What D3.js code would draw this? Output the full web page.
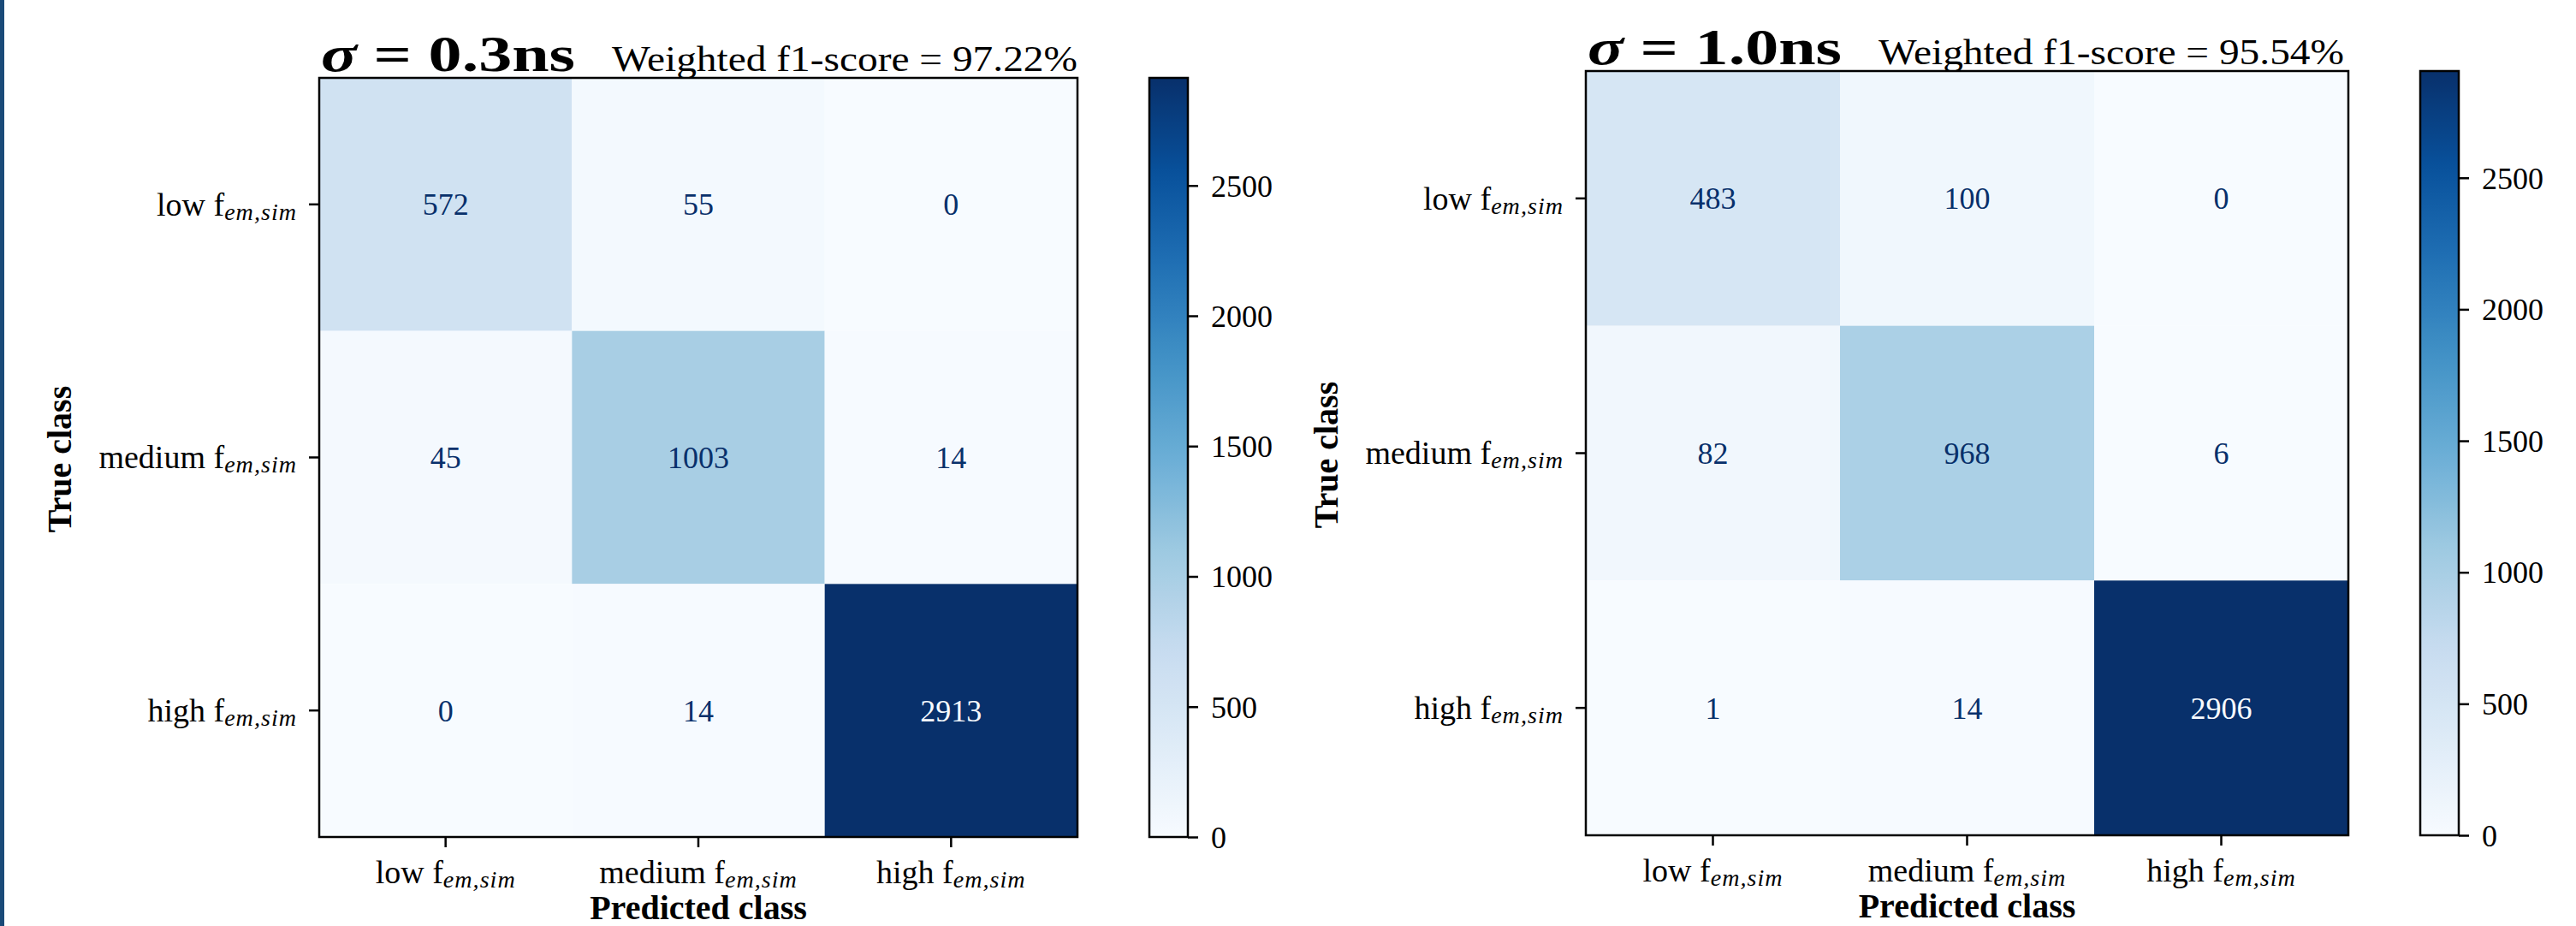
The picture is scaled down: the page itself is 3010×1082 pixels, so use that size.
<!DOCTYPE html>
<html>
<head>
<meta charset="utf-8">
<script src="https://cdn.jsdelivr.net/npm/d3@7"></script>
<style>
  html, body { margin: 0; padding: 0; background: #ffffff; }
  svg { display: block; }
</style>
</head>
<body>
<svg id="chart" width="3010" height="1082"></svg>
<script>
// Class names shared by both confusion matrices (rows: true, columns: predicted)
const classes = ["low", "medium", "high"];

// Confusion matrix counts for sigma = 0.3 ns
const counts03 = [
  [572, 55, 0],
  [45, 1003, 14],
  [0, 14, 2913]
];

// Confusion matrix counts for sigma = 1.0 ns
const counts10 = [
  [483, 100, 0],
  [82, 968, 6],
  [1, 14, 2906]
];

const sigmaLabels = ["0.3", "1.0"];
const f1Scores = ["97.22", "95.54"];
const colorbarTicks = [0, 500, 1000, 1500, 2000, 2500];

// Matplotlib "Blues" colormap anchor colours
const bluesStops = ["#f7fbff", "#deebf7", "#c6dbef", "#9ecae1", "#6baed6",
                    "#4292c6", "#2171b5", "#08519c", "#08306b"];

const FONT = "'Liberation Serif', 'Times New Roman', serif";

const svg = d3.select("#chart");

// thin frame line along the left edge of the figure
svg.append("rect").attr("x", 0).attr("y", 0).attr("width", 5).attr("height", 1082)
  .attr("fill", "#1a4a78");

const defs = svg.append("defs");

const panels = [
  { counts: counts03, sigma: sigmaLabels[0], f1: f1Scores[0], x0: 373, x1: 1259, y0: 91, y1: 978, id: "a" },
  { counts: counts10, sigma: sigmaLabels[1], f1: f1Scores[1], x0: 1853, x1: 2744, y0: 83, y1: 976, id: "b" }
];

function drawPanel(p) {
  const vmax = d3.max(p.counts.flat());
  const vmin = d3.min(p.counts.flat());

  const color = d3.scaleLinear()
    .domain(bluesStops.map((_, i) => vmin + (vmax - vmin) * i / (bluesStops.length - 1)))
    .range(bluesStops)
    .interpolate(d3.interpolateRgb)
    .clamp(true);

  const x = d3.scaleBand().domain(classes).range([p.x0, p.x1]).padding(0);
  const y = d3.scaleBand().domain(classes).range([p.y0, p.y1]).padding(0);

  const g = svg.append("g");

  // cells
  const cells = [];
  p.counts.forEach((row, i) => row.forEach((v, j) => cells.push({ t: classes[i], pr: classes[j], v })));

  g.selectAll("rect.cell").data(cells).join("rect")
    .attr("class", "cell")
    .attr("x", d => x(d.pr))
    .attr("y", d => y(d.t))
    .attr("width", x.bandwidth())
    .attr("height", y.bandwidth())
    .attr("fill", d => color(d.v));

  const thresh = (vmax + vmin) / 2;
  g.selectAll("text.val").data(cells).join("text")
    .attr("class", "val")
    .attr("x", d => x(d.pr) + x.bandwidth() / 2)
    .attr("y", d => y(d.t) + y.bandwidth() / 2)
    .attr("dy", "0.35em")
    .attr("text-anchor", "middle")
    .attr("font-family", FONT)
    .attr("font-size", 36)
    .attr("fill", d => d.v < thresh ? bluesStops[8] : bluesStops[0])
    .text(d => d.v);

  // frame
  g.append("rect")
    .attr("x", p.x0).attr("y", p.y0)
    .attr("width", p.x1 - p.x0).attr("height", p.y1 - p.y0)
    .attr("fill", "none").attr("stroke", "#000").attr("stroke-width", 2.5);

  // axes
  const labelSize = 38;
  function classLabel(sel) {
    sel.each(function (d) {
      const t = d3.select(this);
      t.text(null);
      t.append("tspan").text(d + " f");
      t.append("tspan").attr("font-style", "italic").attr("font-size", labelSize * 0.74)
        .attr("letter-spacing", 1).attr("dy", 5).text("em,sim");
    });
  }

  const xAxis = g.append("g")
    .attr("transform", `translate(0,${p.y1})`)
    .call(d3.axisBottom(x).tickSize(12).tickSizeOuter(0));
  xAxis.select(".domain").remove();
  xAxis.selectAll(".tick line").attr("stroke", "#000").attr("stroke-width", 2.5);
  xAxis.selectAll(".tick text")
    .attr("y", 54).attr("dy", null)
    .attr("font-family", FONT).attr("font-size", labelSize).attr("fill", "#000")
    .call(classLabel);

  const yAxis = g.append("g")
    .attr("transform", `translate(${p.x0},0)`)
    .call(d3.axisLeft(y).tickSize(12).tickPadding(14).tickSizeOuter(0));
  yAxis.select(".domain").remove();
  yAxis.selectAll(".tick line").attr("stroke", "#000").attr("stroke-width", 2.5);
  yAxis.selectAll(".tick text")
    .attr("dy", "0.34em")
    .attr("font-family", FONT).attr("font-size", labelSize).attr("fill", "#000")
    .call(classLabel);

  // axis titles
  g.append("text")
    .attr("x", (p.x0 + p.x1) / 2).attr("y", p.y1 + 96)
    .attr("text-anchor", "middle")
    .attr("font-family", FONT).attr("font-size", 40).attr("font-weight", "bold")
    .text("Predicted class");

  g.append("text")
    .attr("transform", `translate(${p.x0 - 290},${(p.y0 + p.y1) / 2 + 2}) rotate(-90)`)
    .attr("text-anchor", "middle")
    .attr("font-family", FONT).attr("font-size", 40).attr("font-weight", "bold")
    .text("True class");

  // panel title
  const titleY = p.y0 - 8;
  const math = g.append("text")
    .attr("x", p.x0 + 2).attr("y", titleY)
    .attr("font-family", FONT).attr("font-size", 60).attr("font-weight", "bold")
    .attr("textLength", 297).attr("lengthAdjust", "spacingAndGlyphs");
  math.append("tspan").attr("font-style", "italic").text("σ");
  math.append("tspan").text(" = " + p.sigma + "ns");

  g.append("text")
    .attr("x", p.x0 + 342).attr("y", titleY)
    .attr("font-family", FONT).attr("font-size", 42)
    .attr("textLength", 544).attr("lengthAdjust", "spacingAndGlyphs")
    .text("Weighted f1-score = " + p.f1 + "%");

  // colorbar
  const cbX = p.x1 + 84, cbW = 45;
  const gradId = "grad-" + p.id;
  const grad = defs.append("linearGradient").attr("id", gradId)
    .attr("x1", 0).attr("y1", 1).attr("x2", 0).attr("y2", 0);
  d3.range(0, 1.0001, 0.02).forEach(f => {
    grad.append("stop").attr("offset", f).attr("stop-color", color(vmin + f * (vmax - vmin)));
  });
  g.append("rect")
    .attr("x", cbX).attr("y", p.y0).attr("width", cbW).attr("height", p.y1 - p.y0)
    .attr("fill", `url(#${gradId})`)
    .attr("stroke", "#000").attr("stroke-width", 2.5);

  const cbScale = d3.scaleLinear().domain([vmin, vmax]).range([p.y1, p.y0]);
  const cbAxis = g.append("g")
    .attr("transform", `translate(${cbX + cbW},0)`)
    .call(d3.axisRight(cbScale).tickValues(colorbarTicks).tickSize(12).tickPadding(15).tickFormat(d3.format("d")));
  cbAxis.select(".domain").remove();
  cbAxis.selectAll(".tick line").attr("stroke", "#000").attr("stroke-width", 2.5);
  cbAxis.selectAll(".tick text")
    .attr("font-family", FONT).attr("font-size", 36).attr("fill", "#000").attr("dy", "0.34em");
}

panels.forEach(drawPanel);
</script>
</body>
</html>
